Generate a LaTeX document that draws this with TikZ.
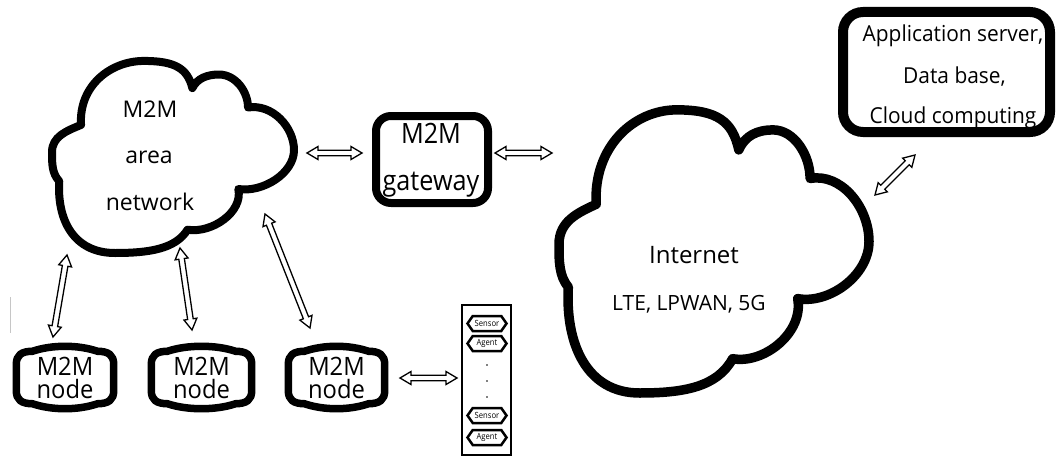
\documentclass[tikz,border=0pt]{standalone}
\usepackage{fontspec}
\usepackage{graphicx}
\setmainfont{Open Sans}
\usetikzlibrary{calc,shapes.symbols}

\newcommand\fs[1]{\fontsize{#1}{#1}\selectfont}
\newcommand\narrow[2]{\scalebox{#1}[1]{#2}}
\newcommand\tall[1]{\scalebox{1.08}[1.15]{#1}}

% cloud outline in a unit frame, placed by shift/xscale/yscale
\newcommand\drawcloud[1]{%
  \draw[#1]
  (0.12,0.66) .. controls +(-0.01,0.2) and +(-0.14,0) .. (0.38,0.99)
  .. controls +(0.13,0) and +(-0.02,0.1) .. (0.58,0.85)
  .. controls +(0.02,0.05) and +(-0.05,0) .. (0.69,0.92)
  .. controls +(0.07,0) and +(0,0.08) .. (0.81,0.75)
  .. controls +(0.1,0.02) and +(0,0.12) .. (1.0,0.53)
  .. controls +(0,-0.12) and +(0.1,-0.02) .. (0.77,0.33)
  .. controls +(0.02,-0.12) and +(0.1,-0.02) .. (0.56,0.12)
  .. controls +(-0.05,-0.1) and +(0.14,0) .. (0.26,0.0)
  .. controls +(-0.17,0) and +(-0.01,-0.2) .. (0.03,0.37)
  .. controls +(-0.03,0.04) and +(0,-0.06) .. (0,0.52)
  .. controls +(0,0.08) and +(-0.06,-0.03) .. (0.12,0.66) -- cycle;}

% barrel-shaped outline around a named node
\newcommand\barrel[1]{%
  \draw[barrelline]
  ($(#1.north west)+(0,-18)$)
  .. controls ($(#1.north west)+(0,-9)$) and ($(#1.north west)+(5,-5)$) .. ($(#1.north west)+(16,-5)$)
  .. controls ($(#1.north west)+(36,1.7)$) and ($(#1.north east)+(-36,1.7)$) .. ($(#1.north east)+(-16,-5)$)
  .. controls ($(#1.north east)+(-5,-5)$) and ($(#1.north east)+(0,-9)$) .. ($(#1.north east)+(0,-18)$)
  -- ($(#1.south east)+(0,18)$)
  .. controls ($(#1.south east)+(0,9)$) and ($(#1.south east)+(-5,5)$) .. ($(#1.south east)+(-16,5)$)
  .. controls ($(#1.south east)+(-36,-1.7)$) and ($(#1.south west)+(36,-1.7)$) .. ($(#1.south west)+(16,5)$)
  .. controls ($(#1.south west)+(5,5)$) and ($(#1.south west)+(0,9)$) .. ($(#1.south west)+(0,18)$)
  -- cycle;}

% hollow double-headed arrow between two named points
\newcommand\hollowlink[2]{%
  \draw[link] (#1) -- ($(#1)!12.78pt!30.58:(#2)$) -- ($(#1)!11.35pt!14.28:(#2)$)
  -- ($(#2)!11.35pt!-14.28:(#1)$) -- ($(#2)!12.78pt!-30.58:(#1)$) -- (#2)
  -- ($(#2)!12.78pt!30.58:(#1)$) -- ($(#2)!11.35pt!14.28:(#1)$)
  -- ($(#1)!11.35pt!-14.28:(#2)$) -- ($(#1)!12.78pt!-30.58:(#2)$) -- cycle;}

\tikzset{
  txt/.style={anchor=base, inner sep=0pt, outer sep=0pt},
  cloudline/.style={line join=round},
  boxline/.style={draw, line width=8pt, rounded corners=15pt, inner sep=0pt},
  barrelline/.style={line width=7.5pt, line join=round},
  barrelnode/.style={inner sep=0pt, minimum height=62pt},
  nodelabel/.style={inner sep=0pt, outer sep=0pt, align=center, font=\fontsize{22}{23}\selectfont},
  link/.style={line width=1.3pt, fill=white, line join=miter},
  tag/.style={signal, signal to=west and east, signal pointer angle=110, draw,
    line width=2.5pt, inner sep=0pt, minimum width=39pt, minimum height=15pt,
    font=\fontsize{8.5}{9}\selectfont},
}

\begin{document}
\begin{tikzpicture}[x=1pt,y=1pt]
\useasboundingbox (0,0) rectangle (1057,459);

% M2M area network cloud
\drawcloud{cloudline, line width=8pt, shift={(52,206)}, xscale=242, yscale=194}
\node[txt, font=\fs{23}] (lanA) at (150,342) {M2M};
\node[txt, font=\fs{23}] (lanB) at (149,296) {area};
\node[txt, font=\fs{23}] (lanC) at (150,249) {network};

% Internet cloud
\drawcloud{cloudline, line width=9.5pt, shift={(559,66)}, xscale=310, yscale=286}
\node[txt, font=\fs{24}] (inetA) at (694,196) {Internet};
\node[txt, font=\fs{21}] (inetB) at (689,149) {LTE, LPWAN, 5G};

% gateway
\node[boxline, minimum width=112pt, minimum height=87pt] (gw) at (432,299.5) {};
\node[txt, font=\fs{28}] (gwA) at (431,316) {\narrow{0.9}{M2M}};
\node[txt, font=\fs{28}] (gwB) at (431,269) {\narrow{0.9}{gateway}};

% application server box
\node[boxline, line width=10pt, rounded corners=20pt, minimum width=207pt, minimum height=120pt] (app) at (946.5,387) {};
\node[txt, font=\fs{22}] (appA) at (953,417) {\narrow{0.95}{Application server,}};
\node[txt, font=\fs{22}] (appB) at (954.5,376) {\narrow{0.95}{Data base,}};
\node[txt, font=\fs{22}] (appC) at (953,336) {\narrow{0.95}{Cloud computing}};

% M2M nodes
\node[barrelnode, minimum width=97pt] (n1) at (65,81.5) {};
\node[barrelnode, minimum width=100pt] (n2) at (201.5,81.5) {};
\node[barrelnode, minimum width=96pt] (n3) at (336.5,81.5) {};
\barrel{n1}
\barrel{n2}
\barrel{n3}
\foreach \n/\x in {n1/65, n2/201.5, n3/336.5}
  \node[nodelabel] (\n t) at (\x,81.5) {\tall{M2M}\\\tall{node}};

% sensor / agent stack
\node[draw, line width=1.2pt, minimum width=49pt, minimum height=150pt, inner sep=0pt] (stack) at (486.5,79) {};
\node[tag] (s1) at (487,135.5) {\narrow{0.9}{Sensor}};
\node[tag] (g1) at (487,115.5) {\narrow{0.9}{Agent}};
\node[tag] (s2) at (487,43.5) {\narrow{0.9}{Sensor}};
\node[tag] (g2) at (487,21.5) {\narrow{0.9}{Agent}};
\foreach \y/\nm in {94/d1, 78/d2, 62/d3}
  \fill (487,\y) circle (0.8) coordinate (\nm);

% stray mark at the left edge
\draw[gray!45, line width=0.8pt] (10,162) -- (10,126);

% link end points
\coordinate (l1s) at (307,306); \coordinate (l1e) at (362,306);
\coordinate (l2s) at (495,306); \coordinate (l2e) at (552,306);
\coordinate (l3s) at (875,264); \coordinate (l3e) at (915,304);
\coordinate (l4s) at (67,204);  \coordinate (l4e) at (53,122);
\coordinate (l5s) at (180,211); \coordinate (l5e) at (192,129);
\coordinate (l6s) at (265,245); \coordinate (l6e) at (310,131);
\coordinate (l7s) at (400,81);  \coordinate (l7e) at (457,81);

\hollowlink{l1s}{l1e}
\hollowlink{l2s}{l2e}
\hollowlink{l3s}{l3e}
\hollowlink{l4s}{l4e}
\hollowlink{l5s}{l5e}
\hollowlink{l6s}{l6e}
\hollowlink{l7s}{l7e}
\end{tikzpicture}
\end{document}
